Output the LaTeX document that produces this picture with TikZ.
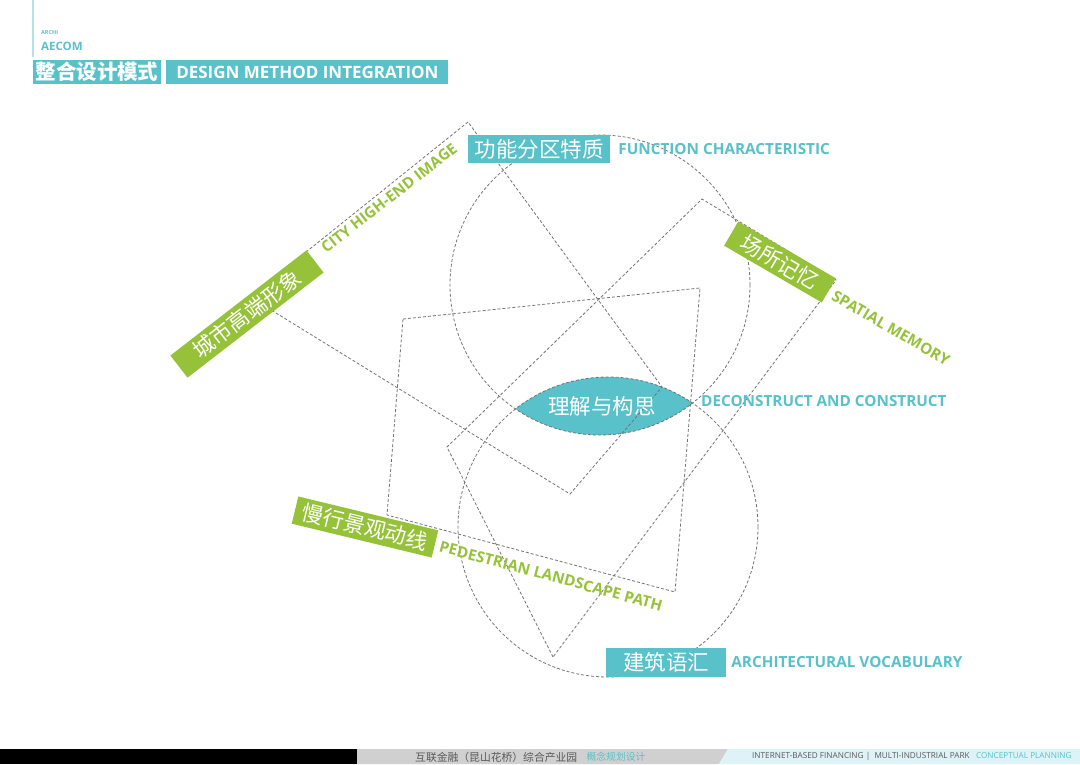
\documentclass[tikz,border=0pt]{standalone}
\usepackage{fontspec}
\setmainfont{Open Sans}
\newfontfamily\cjk{Noto Sans CJK SC}
\usepackage{tikz}
\usetikzlibrary{positioning}
\definecolor{aeteal}{RGB}{88,193,201}
\definecolor{aegreen}{RGB}{150,194,58}
\definecolor{guidegray}{RGB}{115,115,115}
\definecolor{footgray}{RGB}{208,208,208}
\definecolor{footblue}{RGB}{222,243,248}

\begin{document}
\begin{tikzpicture}[x=1pt,y=-1pt, cn/.style={font=\cjk\fontsize{21.5}{22}\selectfont,text=white,inner sep=0pt}, en/.style={font=\bfseries\fontsize{15.3}{16}\selectfont,inner sep=0pt}, tealbox/.style={cn,fill=aeteal,minimum height=28pt}, greenbox/.style={cn,fill=aegreen,minimum height=28pt}, dashln/.style={draw=guidegray,line width=0.8pt,dash pattern=on 3pt off 2pt}, foot/.style={inner sep=0pt,anchor=west}]
\useasboundingbox (0,0) rectangle (1080,764);
% header
\draw[aeteal!45,line width=1.2pt] (33,0) -- (33,57);
\node[foot,text=aeteal,font=\bfseries\fontsize{5.5}{6}\selectfont] (archi) at (41,33) {ARCHI};
\node[foot,text=aeteal,font=\bfseries\fontsize{11.5}{12}\selectfont] (aecom) at (41,46) {AECOM};
\node[fill=aeteal,text=white,font=\cjk\bfseries\fontsize{20.5}{21}\selectfont,minimum width=128pt,minimum height=24pt,inner sep=0pt] (headcn) at (97,72) {整合设计模式};
\node[fill=aeteal,text=white,font=\bfseries\fontsize{17}{18}\selectfont,minimum width=282pt,minimum height=24pt,inner sep=0pt,right=5pt of headcn] (heden) {DESIGN METHOD INTEGRATION};
% lens
\begin{scope}
\clip (600,285) circle (150pt);
\fill[aeteal] (608,527) circle (150pt);
\end{scope}
\draw[dashln] (600,285) circle (150pt);
\draw[dashln] (608,527) circle (150pt);
% guide shapes
\coordinate (q1) at (468,122); \coordinate (q2) at (250,297); \coordinate (q3) at (570,494); \coordinate (q4) at (662,387);
\coordinate (p1) at (553,657); \coordinate (p2) at (447,447); \coordinate (p3) at (702,199); \coordinate (p4) at (836,280);
\coordinate (r1) at (403,319); \coordinate (r2) at (700,288); \coordinate (r3) at (675,592); \coordinate (r4) at (387,515);
\draw[dashln] (q1)--(q2)--(q3)--(q4)--cycle;
\draw[dashln] (p1)--(p2)--(p3)--(p4)--cycle;
\draw[dashln] (r1)--(r2)--(r3)--(r4)--cycle;
% labels
\node[tealbox,minimum width=142pt] (func) at (539,149) {功能分区特质};
\node[en,text=aeteal,right=8pt of func] (funcen) {FUNCTION CHARACTERISTIC};
\node[cn] (idea) at (602,406) {理解与构思};
\coordinate (lensr) at (692,401);
\node[en,text=aeteal,right=9pt of lensr] (ideaen) {DECONSTRUCT AND CONSTRUCT};
\node[tealbox,minimum width=120pt,minimum height=29pt] (arch) at (666,662) {建筑语汇};
\node[en,text=aeteal,right=5pt of arch] (archen) {ARCHITECTURAL VOCABULARY};
\node[greenbox,minimum width=172pt,rotate=37.7] (city) at (247,314) {城市高端形象};
\node[en,text=aegreen,rotate=38] (cityen) at (389,198) {CITY HIGH-END IMAGE};
\node[greenbox,minimum width=113pt,rotate=-30.2] (place) at (780,262) {场所记忆};
\node[en,text=aegreen,rotate=-30] (placeen) at (891,328) {SPATIAL MEMORY};
\node[greenbox,minimum width=144pt,rotate=-13.6] (walk) at (365,527) {慢行景观动线};
\node[en,text=aegreen,rotate=-15] (walken) at (551,576) {PEDESTRIAN LANDSCAPE PATH};
% footer
\fill[black] (0,749) rectangle (357,764);
\fill[footgray] (357,749) -- (728,749) -- (719,764) -- (357,764) -- cycle;
\fill[footblue] (728,749) -- (1080,749) -- (1080,764) -- (719,764) -- cycle;
\node[foot,text=black!65,font=\cjk\fontsize{10.8}{11}\selectfont] (ftcn) at (415,757) {互联金融（昆山花桥）综合产业园};
\node[foot,text=aeteal,font=\cjk\fontsize{9.8}{10}\selectfont,right=9pt of ftcn] (ftcn2) {概念规划设计};
\node[foot,text=black!65,font=\fontsize{8.2}{9}\selectfont] (ften) at (752,756) {INTERNET-BASED FINANCING |\ \ MULTI-INDUSTRIAL PARK};
\node[foot,text=aeteal,font=\fontsize{8.2}{9}\selectfont,right=6pt of ften] (ften2) {CONCEPTUAL PLANNING};
\end{tikzpicture}
\end{document}
